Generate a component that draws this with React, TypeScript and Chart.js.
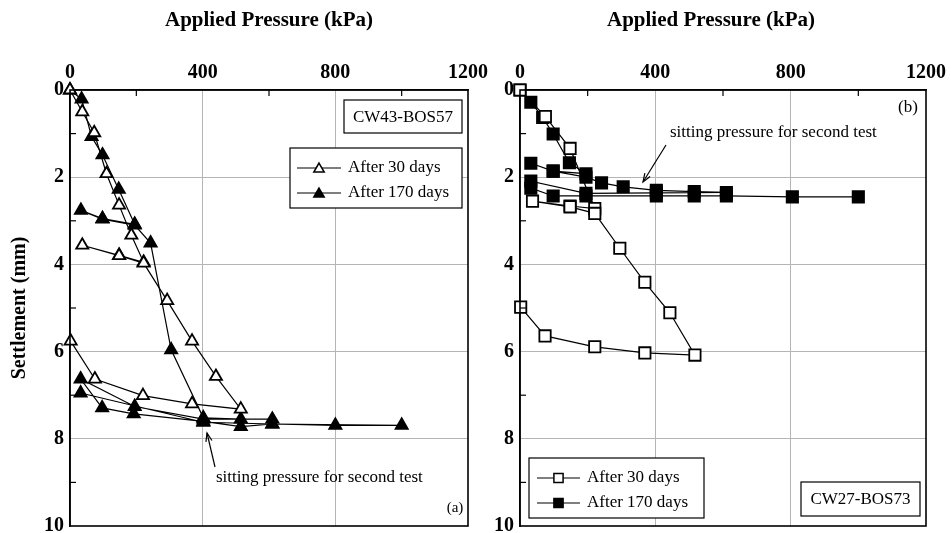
import React, { useEffect, useRef } from "react";
import { Chart, registerables } from "chart.js";

Chart.register(...registerables);

const FONT = "'Liberation Serif', 'Times New Roman', serif";

// ---------- data ----------
const xAxisTicks = [0, 400, 800, 1200];
const yAxisTicks = [0, 2, 4, 6, 8, 10];
const seriesLabels = ["After 30 days", "After 170 days"];
const xTitle = "Applied Pressure (kPa)";
const yTitle = "Settlement (mm)";
const annotationText = "sitting pressure for second test";

// Panel (a) CW43-BOS57
const pressureA30 = [0, 37, 73, 110, 148, 185, 222, 148, 37, 148, 222, 293, 368, 440, 515, 368, 220, 75, 2];
const settleA30 = [0, 0.5, 0.98, 1.92, 2.64, 3.33, 3.95, 3.79, 3.56, 3.8, 3.97, 4.83, 5.76, 6.57, 7.32, 7.2, 7.01, 6.63, 5.76];
const pressureA170 = [0, 35, 65, 98, 147, 195, 98, 33, 98, 195, 243, 305, 402, 515, 610, 402, 195, 32, 97, 192, 402, 515, 610, 800, 1000, 610, 402, 32];
const settleA170 = [0, 0.21, 1.07, 1.49, 2.28, 3.08, 2.95, 2.76, 2.96, 3.1, 3.51, 5.96, 7.52, 7.55, 7.55, 7.55, 7.26, 6.63, 7.29, 7.43, 7.6, 7.72, 7.66, 7.69, 7.69, 7.66, 7.62, 6.95];

// Panel (b) CW27-BOS73
const pressureB30 = [0, 75, 148, 221, 148, 37, 148, 221, 295, 369, 443, 517, 369, 221, 74, 2];
const settleB30 = [0, 0.61, 1.34, 2.72, 2.66, 2.55, 2.68, 2.83, 3.63, 4.41, 5.11, 6.08, 6.03, 5.89, 5.64, 4.98];
const pressureB170 = [0, 32, 67, 98, 146, 195, 98, 32, 98, 195, 241, 305, 403, 515, 610, 403, 195, 32, 32, 98, 195, 403, 515, 610, 805, 1000];
const settleB170 = [0, 0.28, 0.63, 1.01, 1.67, 1.92, 1.86, 1.68, 1.86, 2.0, 2.13, 2.22, 2.3, 2.33, 2.35, 2.36, 2.37, 2.09, 2.25, 2.43, 2.43, 2.43, 2.43, 2.43, 2.45, 2.45];

const CANVAS_H = 542;

type PanelSpec = {
  marker: "triangle" | "rect";
  x30: number[];
  y30: number[];
  x170: number[];
  y170: number[];
  yAxisWidth: number;
  padRight: number;
  showTitles: boolean;
  drawExtras: (ctx: CanvasRenderingContext2D, chart: any) => void;
};

function drawMarker(ctx: CanvasRenderingContext2D, kind: string, x: number, y: number, r: number, filled: boolean) {
  ctx.save();
  ctx.beginPath();
  if (kind === "triangle") {
    ctx.moveTo(x, y - r);
    ctx.lineTo(x + 0.866 * r, y + 0.5 * r);
    ctx.lineTo(x - 0.866 * r, y + 0.5 * r);
    ctx.closePath();
  } else {
    const s = r * Math.SQRT1_2;
    ctx.rect(x - s, y - s, 2 * s, 2 * s);
  }
  ctx.fillStyle = filled ? "#000" : "#fff";
  ctx.fill();
  ctx.lineWidth = 1.5;
  ctx.strokeStyle = "#000";
  ctx.stroke();
  ctx.restore();
}

function drawArrow(ctx: CanvasRenderingContext2D, x1: number, y1: number, x2: number, y2: number) {
  ctx.save();
  ctx.strokeStyle = "#000";
  ctx.lineWidth = 1.2;
  ctx.beginPath();
  ctx.moveTo(x1, y1);
  ctx.lineTo(x2, y2);
  ctx.stroke();
  const a = Math.atan2(y2 - y1, x2 - x1);
  const L = 9;
  ctx.beginPath();
  ctx.moveTo(x2 - L * Math.cos(a - 0.35), y2 - L * Math.sin(a - 0.35));
  ctx.lineTo(x2, y2);
  ctx.lineTo(x2 - L * Math.cos(a + 0.35), y2 - L * Math.sin(a + 0.35));
  ctx.stroke();
  ctx.restore();
}

function drawLegend(ctx: CanvasRenderingContext2D, kind: string, bx: number, by: number, bw: number, bh: number, lx1: number, lx2: number, tx: number, ys: number[]) {
  ctx.save();
  ctx.fillStyle = "#fff";
  ctx.fillRect(bx, by, bw, bh);
  ctx.strokeStyle = "#000";
  ctx.lineWidth = 1.2;
  ctx.strokeRect(bx, by, bw, bh);
  seriesLabels.forEach((lab, i) => {
    const y = ys[i];
    ctx.beginPath();
    ctx.moveTo(lx1, y);
    ctx.lineTo(lx2, y);
    ctx.lineWidth = 1.2;
    ctx.strokeStyle = "#000";
    ctx.stroke();
    drawMarker(ctx, kind, (lx1 + lx2) / 2, y + (kind === "triangle" ? 1 : 0), kind === "triangle" ? 6 : 6.5, i === 1);
    ctx.fillStyle = "#000";
    ctx.font = `17px ${FONT}`;
    ctx.textAlign = "left";
    ctx.textBaseline = "middle";
    ctx.fillText(lab, tx, y);
  });
  ctx.restore();
}

function drawTagBox(ctx: CanvasRenderingContext2D, text: string, bx: number, by: number, bw: number, bh: number) {
  ctx.save();
  ctx.fillStyle = "#fff";
  ctx.fillRect(bx, by, bw, bh);
  ctx.strokeStyle = "#000";
  ctx.lineWidth = 1.2;
  ctx.strokeRect(bx, by, bw, bh);
  ctx.fillStyle = "#000";
  ctx.font = `17px ${FONT}`;
  ctx.textAlign = "center";
  ctx.textBaseline = "middle";
  ctx.fillText(text, bx + bw / 2, by + bh / 2 + 1);
  ctx.restore();
}

const framePlugin = {
  id: "frameAndExtras",
  afterDraw(chart: any, _args: any, opts: any) {
    const ctx: CanvasRenderingContext2D = chart.ctx;
    const { left, right, top, bottom } = chart.chartArea;
    const xs = chart.scales.x;
    const ys = chart.scales.y;
    ctx.save();
    ctx.strokeStyle = "#000";
    ctx.lineWidth = 1.2;
    [200, 600, 1000].forEach((v) => {
      const px = xs.getPixelForValue(v);
      ctx.beginPath();
      ctx.moveTo(px, top);
      ctx.lineTo(px, top + 6);
      ctx.stroke();
    });
    [1, 3, 5, 7, 9].forEach((v) => {
      const py = ys.getPixelForValue(v);
      ctx.beginPath();
      ctx.moveTo(left, py);
      ctx.lineTo(left + 6, py);
      ctx.stroke();
    });
    ctx.lineWidth = 1.6;
    ctx.strokeRect(left, top, right - left, bottom - top);
    ctx.restore();
    if (opts && opts.draw) opts.draw(ctx, chart);
  },
};

function buildConfig(p: PanelSpec): any {
  const mk = (xv: number[], yv: number[], filled: boolean, label: string) => ({
    label,
    data: xv.map((v, i) => ({ x: v, y: yv[i] })),
    showLine: true,
    borderColor: "#000",
    borderWidth: 1.2,
    pointStyle: p.marker,
    pointRadius: p.marker === "triangle" ? 7 : 8,
    pointBackgroundColor: filled ? "#000" : "#fff",
    pointBorderColor: "#000",
    pointBorderWidth: 1.8,
    clip: false,
  });
  const tickFont = { family: FONT, size: 20, weight: "bold", lineHeight: 1 };
  return {
    type: "scatter",
    data: {
      datasets: [mk(p.x30, p.y30, false, seriesLabels[0]), mk(p.x170, p.y170, true, seriesLabels[1])],
    },
    options: {
      animation: false,
      responsive: false,
      layout: { padding: { left: 0, right: p.padRight, top: 0, bottom: 8 } },
      plugins: {
        legend: { display: false },
        tooltip: { enabled: false },
        frameAndExtras: { draw: p.drawExtras },
      },
      scales: {
        x: {
          type: "linear",
          position: "top",
          min: 0,
          max: 1200,
          afterFit: (s: any) => {
            s.height = 90;
          },
          ticks: {
            stepSize: 200,
            autoSkip: false,
            maxRotation: 0,
            padding: 7,
            color: "#000",
            font: tickFont,
            callback: (v: any) => (xAxisTicks.includes(Number(v)) ? String(v) : ""),
          },
          grid: {
            drawTicks: false,
            lineWidth: 1,
            color: (c: any) => (c.tick && [400, 800].includes(c.tick.value) ? "#b5b5b5" : "rgba(0,0,0,0)"),
          },
          border: { display: true, color: "#000", width: 1.6 },
          title: p.showTitles
            ? {
                display: true,
                text: xTitle,
                color: "#000",
                font: { family: FONT, size: 21, weight: "bold" },
                padding: { top: 8, bottom: 0 },
              }
            : { display: false },
        },
        y: {
          type: "linear",
          reverse: true,
          min: 0,
          max: 10,
          afterFit: (s: any) => {
            s.width = p.yAxisWidth;
          },
          ticks: {
            stepSize: 1,
            autoSkip: false,
            padding: 6,
            color: "#000",
            font: tickFont,
            callback: (v: any) => (yAxisTicks.includes(Number(v)) ? String(v) : ""),
          },
          grid: {
            drawTicks: false,
            lineWidth: 1,
            color: (c: any) => (c.tick && [2, 4, 6, 8].includes(c.tick.value) ? "#b5b5b5" : "rgba(0,0,0,0)"),
          },
          border: { display: true, color: "#000", width: 1.6 },
          title: p.showTitles
            ? {
                display: true,
                text: yTitle,
                color: "#000",
                font: { family: FONT, size: 20, weight: "bold" },
                padding: { top: 8, bottom: 0 },
              }
            : { display: false },
        },
      },
    },
    plugins: [framePlugin],
  };
}

const panelA: PanelSpec = {
  marker: "triangle",
  x30: pressureA30,
  y30: settleA30,
  x170: pressureA170,
  y170: settleA170,
  yAxisWidth: 70,
  padRight: 32,
  showTitles: true,
  drawExtras: (ctx) => {
    drawTagBox(ctx, "CW43-BOS57", 344, 100, 118, 33);
    drawLegend(ctx, "triangle", 290, 148, 172, 60, 297, 341, 348, [168, 193]);
    ctx.save();
    ctx.fillStyle = "#000";
    ctx.font = `17px ${FONT}`;
    ctx.textBaseline = "middle";
    ctx.textAlign = "left";
    ctx.fillText(annotationText, 216, 478);
    ctx.font = `15px ${FONT}`;
    ctx.textAlign = "center";
    ctx.fillText("(a)", 455, 508);
    ctx.restore();
    drawArrow(ctx, 215, 467, 207, 433);
  },
};

const panelB: PanelSpec = {
  marker: "rect",
  x30: pressureB30,
  y30: settleB30,
  x170: pressureB170,
  y170: settleB170,
  yAxisWidth: 45,
  padRight: 29,
  showTitles: false,
  drawExtras: (ctx) => {
    drawTagBox(ctx, "CW27-BOS73", 326, 482, 119, 34);
    drawLegend(ctx, "rect", 54, 458, 175, 60, 62, 105, 112, [478, 503]);
    ctx.save();
    ctx.fillStyle = "#000";
    ctx.font = `17px ${FONT}`;
    ctx.textBaseline = "middle";
    ctx.textAlign = "left";
    ctx.fillText(annotationText, 195, 133);
    ctx.textAlign = "center";
    ctx.fillText("(b)", 433, 108);
    ctx.font = `bold 21px ${FONT}`;
    ctx.fillText(xTitle, 236, 21);
    ctx.restore();
    drawArrow(ctx, 191, 145, 168, 182);
  },
};

function Panel({ spec, left, width }: { spec: PanelSpec; left: number; width: number }) {
  const ref = useRef<HTMLCanvasElement | null>(null);
  useEffect(() => {
    if (!ref.current) return;
    const chart = new Chart(ref.current, buildConfig(spec));
    return () => chart.destroy();
  }, [spec]);
  return (
    <canvas
      ref={ref}
      width={width}
      height={CANVAS_H}
      style={{ position: "absolute", left, top: 0, width, height: CANVAS_H }}
    />
  );
}

export default function App() {
  return (
    <div style={{ position: "absolute", left: 0, top: 0, width: 950, height: 533, background: "#fff", overflow: "hidden" }}>
      <Panel spec={panelB} left={475} width={480} />
      <Panel spec={panelA} left={0} width={500} />
    </div>
  );
}
